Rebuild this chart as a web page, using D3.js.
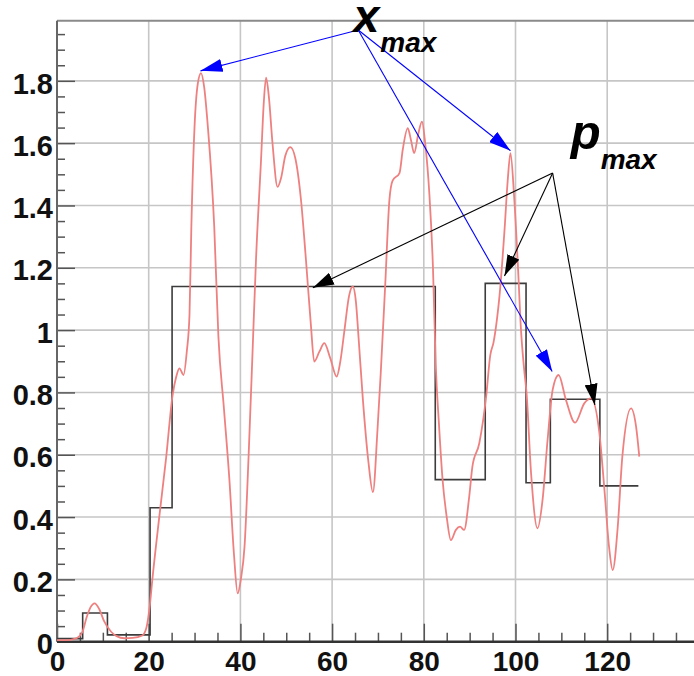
<!DOCTYPE html>
<html>
<head>
<meta charset="utf-8">
<script src="https://cdn.jsdelivr.net/npm/d3@7"></script>
<style>
  html, body { margin: 0; padding: 0; background: #fff; }
  svg { display: block; }
  text { font-family: "Liberation Sans", Arial, sans-serif; }
</style>
</head>
<body>
<svg id="chart" width="694" height="676"></svg>
<script>
// ---------- data ----------
const xTicks = [0, 20, 40, 60, 80, 100, 120];
const yTicks = [0, 0.2, 0.4, 0.6, 0.8, 1, 1.2, 1.4, 1.6, 1.8];
const yTickLabels = ["0", "0.2", "0.4", "0.6", "0.8", "1", "1.2", "1.4", "1.6", "1.8"];
const xTickLabels = ["0", "20", "40", "60", "80", "100", "120"];

// smooth red signal
const curveX = [0, 2, 4, 5.5, 6.5, 7.3, 8.2, 9.2, 10.3, 11.8, 13, 14.7, 16.5, 18.6, 19.5, 20.2, 20.8,
  22.3, 23.8, 25.2, 26, 26.7, 27.6, 28.3, 28.9, 29.3, 30, 30.7, 31.4, 32.1, 32.9, 34.3, 35.2, 36.4,
  37.6, 38.6, 39.4, 40.1, 40.9, 41.8, 42.7, 43.4, 44.5, 45.1, 45.6, 46.2, 47, 48.1, 48.9, 49.8,
  50.9, 52, 53.2, 54.3, 55.4, 56.1, 57.2, 58.3, 59.6, 61, 61.8, 62.7, 63.7, 64.5, 65.2, 65.8,
  66.7, 67.9, 68.9, 69.9, 70.6, 71.6, 72.5, 73.2, 74.7, 75.4, 76.5, 77.2, 77.9, 78.8, 79.6, 80.3,
  81.2, 82.0, 82.6, 83.3, 84.1, 85, 85.9, 87, 87.9, 88.8, 89.9, 90.6, 92.1, 93.6, 94.5, 95.2, 96,
  96.5, 97.6, 98.3, 98.9, 99.7, 100.5, 101.2, 101.9, 102.4, 103.4, 104.8, 105.9, 107, 108.1, 109.4,
  111, 113, 115, 116.5, 118.3, 119.4, 120.4, 121.2, 122.3, 123.3, 125.2, 126.3, 127];
const curveY = [0.005, 0.005, 0.01, 0.03, 0.08, 0.11, 0.123, 0.105, 0.065, 0.032, 0.018, 0.011, 0.012, 0.02, 0.045, 0.11, 0.2,
  0.40, 0.59, 0.79, 0.85, 0.877, 0.856, 0.93, 1.05, 1.33, 1.653, 1.79, 1.825, 1.78, 1.653, 1.33, 0.98, 0.75,
  0.52, 0.28, 0.155, 0.2, 0.305, 0.6, 0.95, 1.225, 1.546, 1.73, 1.81, 1.75, 1.6, 1.46, 1.49, 1.56,
  1.587, 1.55, 1.42, 1.225, 1.011, 0.899, 0.93, 0.958, 0.91, 0.851, 0.9, 1.0, 1.11, 1.14, 1.09, 0.97,
  0.78, 0.58, 0.48, 0.68, 0.86, 1.15, 1.418, 1.48, 1.504, 1.578, 1.648, 1.61, 1.568, 1.63, 1.669, 1.6,
  1.44, 1.2, 0.89, 0.7, 0.519, 0.4, 0.326, 0.359, 0.369, 0.359, 0.465, 0.562, 0.637, 0.787, 0.92, 0.96, 1.04,
  1.108, 1.32, 1.48, 1.568, 1.429, 1.215, 1.0, 0.872, 0.8, 0.54, 0.364, 0.455, 0.648, 0.808, 0.856,
  0.776, 0.703, 0.765, 0.781, 0.669, 0.487, 0.305, 0.23, 0.369, 0.594, 0.749, 0.69, 0.594];

// black step line (bin edges and levels)
const stepEdges = [0, 5.6, 11, 20.3, 25.1, 82.5, 93.4, 102.3, 107.6, 118.4, 126.8];
const stepValues = [0.01, 0.092, 0.022, 0.43, 1.14, 0.52, 1.15, 0.51, 0.778, 0.5];

// annotations (data coordinates)
const xmaxAnchor = [65.7, 1.963];
const xmaxTargets = [[31.3, 1.832], [98.9, 1.576], [108.0, 0.867]];
const pmaxAnchor = [108.1, 1.504];
const pmaxTargets = [[55.8, 1.136], [97.6, 1.174], [117.3, 0.76]];

// ---------- layout ----------
const svg = d3.select("#chart");
const X0 = 57, X1 = 698.9, YB = 641.7, YT = 20.7;
const x = d3.scaleLinear().domain([0, 140]).range([X0, X1]);
const y = d3.scaleLinear().domain([0, 1.993]).range([YB, YT]);

const defs = svg.append("defs");
function marker(id, color, len, wid) {
  defs.append("marker").attr("id", id)
    .attr("markerUnits", "userSpaceOnUse")
    .attr("markerWidth", len).attr("markerHeight", wid)
    .attr("refX", len).attr("refY", wid / 2)
    .attr("orient", "auto")
    .append("path")
    .attr("d", `M0,0 L${len},${wid / 2} L0,${wid} Z`)
    .attr("fill", color);
}
marker("arrBlue", "#0000ff", 22, 13);
marker("arrBlack", "#000000", 21, 13);

// grid
const grid = svg.append("g");
grid.selectAll(".gx").data(xTicks.filter(d => d > 0)).enter().append("line")
  .attr("x1", d => x(d)).attr("x2", d => x(d)).attr("y1", YB).attr("y2", YT)
  .attr("stroke", "#c6c6c6").attr("stroke-width", 1.6);
grid.selectAll(".gy").data(yTicks.filter(d => d > 0)).enter().append("line")
  .attr("x1", X0).attr("x2", 694).attr("y1", d => y(d)).attr("y2", d => y(d))
  .attr("stroke", "#c6c6c6").attr("stroke-width", 1.6);

// top frame
svg.append("line").attr("x1", X0).attr("x2", 694).attr("y1", YT).attr("y2", YT)
  .attr("stroke", "#8a8a8a").attr("stroke-width", 2);

// ticks (inside)
const yMinor = d3.range(0, 1.96, 0.05);
const yAxisTicks = d3.axisRight(y).tickValues(yMinor)
  .tickSize(8).tickFormat("");
const gyT = svg.append("g").attr("transform", `translate(${X0},0)`).call(yAxisTicks);
gyT.select(".domain").remove();
gyT.selectAll(".tick line").attr("stroke", "#555").attr("stroke-width", 1.5)
  .attr("x2", d => (Math.abs(d / 0.2 - Math.round(d / 0.2)) < 1e-6 ? 18 : 8));

const xMinor = d3.range(0, 140, 5);
const xAxisTicks = d3.axisTop(x).tickValues(xMinor).tickSize(9).tickFormat("");
const gxT = svg.append("g").attr("transform", `translate(0,${YB})`).call(xAxisTicks);
gxT.select(".domain").remove();
gxT.selectAll(".tick line").attr("stroke", "#555").attr("stroke-width", 1.5)
  .attr("y2", d => (d % 20 === 0 ? -18 : -9));

// axis lines
svg.append("line").attr("x1", X0).attr("x2", X0).attr("y1", YT).attr("y2", YB)
  .attr("stroke", "#666").attr("stroke-width", 2);
svg.append("line").attr("x1", X0).attr("x2", 694).attr("y1", YB).attr("y2", YB)
  .attr("stroke", "#333").attr("stroke-width", 2.6);

// labels
const yLab = d3.axisLeft(y).tickValues(yTicks).tickSize(0).tickPadding(4)
  .tickFormat((d, i) => yTickLabels[i]);
const gyL = svg.append("g").attr("transform", `translate(${X0},0)`).call(yLab);
gyL.select(".domain").remove();
gyL.selectAll("text").attr("font-family", "Liberation Sans, Arial, sans-serif")
  .attr("font-size", 29).attr("font-weight", "bold").attr("fill", "#111").attr("dy", "0.42em");

const xLab = d3.axisBottom(x).tickValues(xTicks).tickSize(0).tickPadding(9)
  .tickFormat((d, i) => xTickLabels[i]);
const gxL = svg.append("g").attr("transform", `translate(0,${YB})`).call(xLab);
gxL.select(".domain").remove();
gxL.selectAll("text").attr("font-family", "Liberation Sans, Arial, sans-serif")
  .attr("font-size", 28).attr("font-weight", "bold").attr("fill", "#111");

// step line
const stepPts = stepValues.map((v, i) => [stepEdges[i], v]);
stepPts.push([stepEdges[stepEdges.length - 1], stepValues[stepValues.length - 1]]);
svg.append("path").datum(stepPts)
  .attr("d", d3.line().x(d => x(d[0])).y(d => y(d[1])).curve(d3.curveStepAfter))
  .attr("fill", "none").attr("stroke", "#3c3c3c").attr("stroke-width", 1.6);

// red curve
const curvePts = curveX.map((cx, i) => [cx, curveY[i]]);
svg.append("path").datum(curvePts)
  .attr("d", d3.line().x(d => x(d[0])).y(d => y(d[1])).curve(d3.curveMonotoneX))
  .attr("fill", "none").attr("stroke", "#ee8080").attr("stroke-width", 1.8)
  .attr("stroke-linejoin", "round");

// arrows
const ann = svg.append("g");
xmaxTargets.forEach(t => {
  ann.append("line")
    .attr("x1", x(xmaxAnchor[0])).attr("y1", y(xmaxAnchor[1]))
    .attr("x2", x(t[0])).attr("y2", y(t[1]))
    .attr("stroke", "#0000ff").attr("stroke-width", 1.1)
    .attr("marker-end", "url(#arrBlue)");
});
pmaxTargets.forEach(t => {
  ann.append("line")
    .attr("x1", x(pmaxAnchor[0])).attr("y1", y(pmaxAnchor[1]))
    .attr("x2", x(t[0])).attr("y2", y(t[1]))
    .attr("stroke", "#000").attr("stroke-width", 1.1)
    .attr("marker-end", "url(#arrBlack)");
});

// annotation labels
function symLabel(main, sub, ax, ay, dxMain, dyMain, dxSub, dySub, sizeMain) {
  const g = svg.append("g");
  g.append("text").attr("x", x(ax) + dxMain).attr("y", y(ay) + dyMain)
    .attr("font-size", sizeMain).attr("font-weight", "bold").attr("font-style", "italic")
    .attr("fill", "#000").text(main);
  g.append("text").attr("x", x(ax) + dxSub).attr("y", y(ay) + dySub)
    .attr("font-size", 28).attr("font-weight", "bold").attr("font-style", "italic")
    .attr("fill", "#000").text(sub);
}
symLabel("x", "max", xmaxAnchor[0], xmaxAnchor[1], -5, 2, 22, 22, 47);
symLabel("p", "max", pmaxAnchor[0], pmaxAnchor[1], 18, -24, 48, -4, 49);
</script>
</body>
</html>
